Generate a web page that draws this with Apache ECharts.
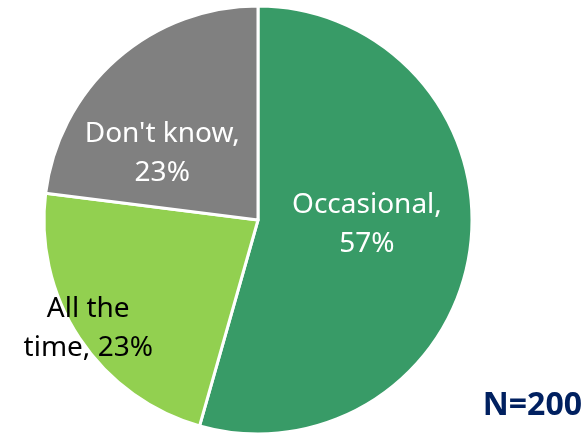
<!DOCTYPE html>
<html lang="en">
<head>
  <meta charset="UTF-8">
  <title>Pie</title>
  <script src="https://cdn.jsdelivr.net/npm/echarts@6/dist/echarts.min.js"></script>
  <style>
    html, body { margin: 0; padding: 0; background: #fff; }
  </style>
</head>
<body>
  <div id="main" style="width: 587px;height:436px;"></div>
  <script>
    // categories, in clockwise order from 12 o'clock
    var names = ['Occasional', 'All the time', "Don't know"]
    // slice shares
    var shares = [54.4, 22.6, 23.0]
    // percentages as printed on the chart
    var pctLabels = ['57%', '23%', '23%']
    var colors = ['#389B67', '#92D050', '#808080']

    var labelOpts = [
      { text: names[0] + ',\n' + pctLabels[0], color: '#fff', offset: [0, -11] },
      // this one sits partly outside the pie
      { text: 'All the\ntime, ' + pctLabels[1], color: '#000', offset: [-78, 48] },
      { text: names[2] + ',\n' + pctLabels[2], color: '#fff', offset: [-23, 16] }
    ]

    var pieData = names.map(function (n, i) {
      return {
        name: n,
        value: shares[i],
        itemStyle: { color: colors[i] },
        label: {
          formatter: labelOpts[i].text,
          color: labelOpts[i].color,
          offset: labelOpts[i].offset
        }
      }
    })

    var mCharts = echarts.init(document.getElementById('main'))
    var option = {
      animation: false,
      title: {
        text: 'N=200',
        right: 0,
        bottom: 9,
        textStyle: { color: '#002060', fontSize: 32, fontWeight: 'bold', fontFamily: 'Noto Sans' }
      },
      series: [
        {
          type: 'pie',
          center: [258, 220],
          radius: 214,
          startAngle: 90,
          clockwise: true,
          data: pieData,
          itemStyle: { borderColor: '#fff', borderWidth: 3 },
          label: {
            show: true,
            position: 'inside',
            fontFamily: 'Noto Sans',
            fontSize: 28,
            lineHeight: 39
          },
          labelLine: { show: false },
          emphasis: { disabled: true }
        }
      ]
    }
    mCharts.setOption(option)
  </script>
</body>
</html>
